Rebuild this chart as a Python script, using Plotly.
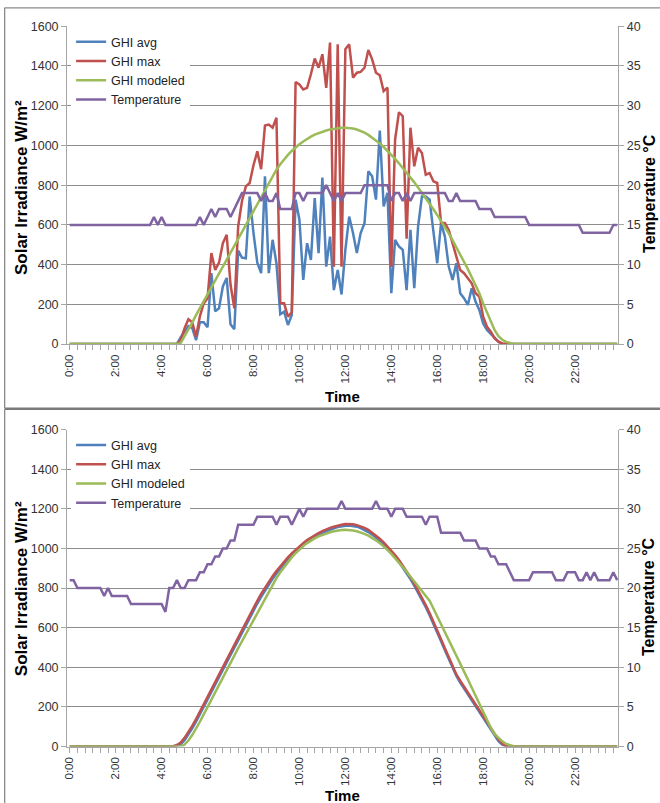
import plotly.graph_objects as go

# ---------------- categories / ticks ----------------
times = [f"{h}:{m:02d}" for h in range(24) for m in range(0, 60, 10)]
tick_vals = times[::2]
tick_text = [t if (t.endswith(":00") and int(t.split(":")[0]) % 2 == 0) else "" for t in tick_vals]

series_names = ["GHI avg", "GHI max", "GHI modeled", "Temperature"]

# ---------------- top chart (cloudy day) ----------------
top_avg = [
    0, 0, 0, 0, 0, 0, 0, 0, 0, 0, 0, 0,
    0, 0, 0, 0, 0, 0, 0, 0, 0, 0, 0, 0,
    0, 0, 0, 0, 0, 35, 65, 90, 80, 20, 110, 110,
    85, 357, 165, 180, 290, 333, 100, 75, 470, 435, 432, 743,
    560, 410, 357, 845, 357, 525, 407, 150, 163, 96, 146, 727,
    626, 323, 508, 424, 735, 458, 838, 390, 541, 272, 373, 250,
    474, 642, 559, 458, 559, 609, 870, 845, 727, 1075, 693, 761,
    256, 525, 491, 474, 272, 575, 281, 592, 743, 743, 727, 559,
    407, 609, 541, 390, 323, 407, 256, 231, 197, 281, 214, 172,
    104, 71, 50, 30, 12, 0, 0, 0, 0, 0, 0, 0,
    0, 0, 0, 0, 0, 0, 0, 0, 0, 0, 0, 0,
    0, 0, 0, 0, 0, 0, 0, 0, 0, 0, 0, 0,
]
top_max = [
    0, 0, 0, 0, 0, 0, 0, 0, 0, 0, 0, 0,
    0, 0, 0, 0, 0, 0, 0, 0, 0, 0, 0, 0,
    0, 0, 0, 0, 0, 20, 80, 125, 110, 37, 140, 205,
    230, 458, 373, 410, 508, 550, 300, 180, 592, 720, 794, 811,
    900, 970, 880, 1100, 1105, 1089, 1139, 205, 205, 138, 160, 1319,
    1307, 1282, 1290, 1358, 1437, 1391, 1459, 1290, 1518, 390, 1509, 390,
    1484, 1509, 1341, 1366, 1370, 1391, 1480, 1433, 1366, 1353, 1273, 1291,
    390, 1030, 1167, 1147, 530, 1089, 895, 988, 962, 853, 861, 819,
    811, 609, 609, 575, 508, 441, 373, 357, 330, 306, 256, 239,
    138, 87, 62, 29, 12, 3, 0, 0, 0, 0, 0, 0,
    0, 0, 0, 0, 0, 0, 0, 0, 0, 0, 0, 0,
    0, 0, 0, 0, 0, 0, 0, 0, 0, 0, 0, 0,
]
top_mod = [
    0, 0, 0, 0, 0, 0, 0, 0, 0, 0, 0, 0,
    0, 0, 0, 0, 0, 0, 0, 0, 0, 0, 0, 0,
    0, 0, 0, 0, 0, 6, 38, 74, 108, 146, 181, 214,
    248, 287, 322, 356, 392, 425, 458, 494, 528, 563, 598, 634,
    670, 705, 740, 780, 815, 848, 878, 905, 930, 952, 972, 990,
    1006, 1020, 1033, 1044, 1054, 1062, 1069, 1075, 1080, 1084, 1087, 1089,
    1089, 1088, 1085, 1080, 1073, 1064, 1053, 1040, 1026, 1010, 992, 973,
    953, 932, 910, 887, 863, 839, 814, 788, 762, 735, 707, 679,
    650, 620, 589, 557, 523, 488, 452, 415, 377, 338, 298, 256,
    205, 158, 112, 70, 40, 22, 11, 4, 1, 0, 0, 0,
    0, 0, 0, 0, 0, 0, 0, 0, 0, 0, 0, 0,
    0, 0, 0, 0, 0, 0, 0, 0, 0, 0, 0, 0,
]
top_temp = [
    15, 15, 15, 15, 15, 15, 15, 15, 15, 15, 15, 15,
    15, 15, 15, 15, 15, 15, 15, 15, 15, 15, 16, 15,
    16, 15, 15, 15, 15, 15, 15, 15, 15, 15, 16, 15,
    16, 17, 16, 17, 17, 17, 16, 17, 18, 19, 19, 19,
    19, 19, 18, 19, 18, 18, 19, 17, 17, 17, 17, 19,
    19, 18, 19, 19, 19, 19, 19, 20, 19, 18, 19, 18,
    19, 19, 19, 19, 19, 20, 20, 20, 20, 20, 20, 20,
    18, 19, 19, 18, 19, 18, 19, 19, 19, 19, 19, 19,
    19, 19, 19, 18, 18, 19, 18, 18, 18, 18, 18, 17,
    17, 17, 17, 16, 16, 16, 16, 16, 16, 16, 16, 16,
    15, 15, 15, 15, 15, 15, 15, 15, 15, 15, 15, 15,
    15, 15, 14, 14, 14, 14, 14, 14, 14, 14, 15, 15,
]

# ---------------- bottom chart (clear day) ----------------
bot_avg = [
    0, 0, 0, 0, 0, 0, 0, 0, 0, 0, 0, 0,
    0, 0, 0, 0, 0, 0, 0, 0, 0, 0, 0, 0,
    0, 0, 0, 0, 4, 12, 32, 60, 92, 126, 162, 199,
    236, 274, 312, 350, 388, 426, 464, 501, 538, 574, 612, 649,
    686, 722, 756, 788, 818, 847, 874, 899, 922, 944, 965, 984,
    1002, 1018, 1033, 1046, 1058, 1069, 1079, 1088, 1096, 1102, 1108, 1112,
    1115, 1116, 1114, 1110, 1103, 1094, 1083, 1070, 1056, 1040, 1022, 1002,
    981, 958, 932, 905, 876, 845, 812, 777, 741, 703, 663, 621,
    577, 532, 486, 440, 396, 356, 323, 293, 263, 233, 203, 173,
    143, 112, 82, 53, 27, 9, 1, 0, 0, 0, 0, 0,
    0, 0, 0, 0, 0, 0, 0, 0, 0, 0, 0, 0,
    0, 0, 0, 0, 0, 0, 0, 0, 0, 0, 0, 0,
]
bot_max = [
    0, 0, 0, 0, 0, 0, 0, 0, 0, 0, 0, 0,
    0, 0, 0, 0, 0, 0, 0, 0, 0, 0, 0, 0,
    0, 0, 0, 2, 8, 20, 44, 72, 104, 138, 174, 211,
    249, 287, 325, 363, 401, 439, 477, 514, 550, 587, 624, 662,
    700, 736, 770, 802, 832, 860, 886, 910, 933, 955, 975, 994,
    1011, 1027, 1042, 1055, 1067, 1078, 1088, 1097, 1104, 1110, 1116, 1120,
    1123, 1124, 1122, 1118, 1112, 1104, 1094, 1080, 1065, 1049, 1031, 1011,
    990, 967, 942, 915, 886, 855, 822, 788, 752, 714, 674, 632,
    588, 542, 496, 450, 405, 364, 332, 302, 273, 243, 213, 183,
    153, 122, 92, 62, 35, 14, 3, 0, 0, 0, 0, 0,
    0, 0, 0, 0, 0, 0, 0, 0, 0, 0, 0, 0,
    0, 0, 0, 0, 0, 0, 0, 0, 0, 0, 0, 0,
]
bot_mod = [
    0, 0, 0, 0, 0, 0, 0, 0, 0, 0, 0, 0,
    0, 0, 0, 0, 0, 0, 0, 0, 0, 0, 0, 0,
    0, 0, 0, 0, 0, 0, 10, 30, 58, 90, 125, 162,
    200, 237, 274, 311, 348, 385, 422, 459, 496, 532, 568, 604,
    640, 676, 711, 745, 780, 815, 850, 880, 907, 932, 955, 976,
    995, 1012, 1027, 1040, 1051, 1061, 1069, 1076, 1082, 1087, 1091, 1093,
    1094, 1093, 1091, 1087, 1081, 1074, 1065, 1054, 1041, 1027, 1011, 993,
    973, 952, 930, 906, 882, 858, 834, 810, 785, 760, 736, 697,
    658, 619, 580, 541, 502, 462, 421, 380, 339, 298, 257, 216,
    175, 134, 94, 62, 42, 26, 13, 5, 1, 0, 0, 0,
    0, 0, 0, 0, 0, 0, 0, 0, 0, 0, 0, 0,
    0, 0, 0, 0, 0, 0, 0, 0, 0, 0, 0, 0,
]
bot_temp = [
    21, 21, 20, 20, 20, 20, 20, 20, 20, 19, 20, 19,
    19, 19, 19, 19, 18, 18, 18, 18, 18, 18, 18, 18,
    18, 17, 20, 20, 21, 20, 20, 21, 21, 21, 22, 22,
    23, 23, 24, 24, 25, 25, 26, 26, 28, 28, 28, 28,
    28, 29, 29, 29, 29, 29, 28, 29, 29, 29, 28, 29,
    30, 29, 30, 30, 30, 30, 30, 30, 30, 30, 30, 31,
    30, 30, 30, 30, 30, 30, 30, 30, 31, 30, 30, 30,
    29, 30, 30, 30, 29, 29, 29, 29, 29, 28, 29, 29,
    29, 27, 27, 27, 27, 27, 27, 26, 26, 26, 26, 25,
    25, 25, 24, 24, 23, 23, 23, 22, 21, 21, 21, 21,
    21, 22, 22, 22, 22, 22, 22, 21, 21, 21, 22, 22,
    22, 21, 21, 22, 21, 22, 21, 21, 21, 21, 22, 21,
]

colors = ["#4F81BD", "#C0504D", "#9BBB59", "#8064A2"]

# ---------------- geometry helpers ----------------
# The captured page is shown at ~0.98 scale with an 8px body margin, so the
# figure is sized to fill that page and reference positions are converted.
S = 0.98
OFF = 8
W, H = 665, 811
def fx(px):
    return (px / S - OFF) / W
def fy(py):
    return 1 - (py / S - OFF) / H

REG = "Liberation Sans, Arial, sans-serif"
TICKC = "#333333"
AXC = "#a6a6a6"
GRIDC = "#8c8c8c"

fig = go.Figure()

def add_set(xa, ya, ya2, leg, vals):
    avg, mx, mod, temp = vals
    for name, v, c in zip(series_names[:3], [avg, mx, mod], colors[:3]):
        fig.add_trace(go.Scatter(x=times, y=v, name=name, mode="lines",
                                 line=dict(color=c, width=2.5),
                                 xaxis=xa, yaxis=ya, legend=leg))
    fig.add_trace(go.Scatter(x=times, y=temp, name=series_names[3], mode="lines",
                             line=dict(color=colors[3], width=2.5),
                             xaxis=xa, yaxis=ya2, legend=leg))

add_set("x", "y", "y2", "legend", (top_avg, top_max, top_mod, top_temp))
add_set("x2", "y3", "y4", "legend2", (bot_avg, bot_max, bot_mod, bot_temp))

xdom = [fx(70), fx(613.5)]
top_dom = [fy(344), fy(27)]
bot_dom = [fy(745.3), fy(429.3)]

def xaxis_cfg(anchor):
    return dict(domain=xdom, anchor=anchor, type="category", range=[-0.7, 143.3],
                tickmode="array", tickvals=tick_vals, ticktext=tick_text,
                tickangle=-90, ticks="outside", ticklen=5, tickcolor=AXC,
                showline=True, linecolor=AXC, linewidth=1, showgrid=False,
                zeroline=False, tickfont=dict(family=REG, size=11.5, color=TICKC))

def yleft_cfg(dom, anchor):
    return dict(domain=dom, anchor=anchor, range=[0, 1600], tick0=0, dtick=200,
                showgrid=True, gridcolor=GRIDC, gridwidth=1, zeroline=False,
                showline=True, linecolor=AXC, linewidth=1, ticks="outside",
                ticklen=5, tickcolor=AXC,
                tickfont=dict(family=REG, size=12.5, color=TICKC))

def yright_cfg(over, anchor):
    return dict(overlaying=over, anchor=anchor, side="right", range=[0, 40],
                tick0=0, dtick=5, showgrid=False, zeroline=False,
                showline=True, linecolor=AXC, linewidth=1, ticks="outside",
                ticklen=5, tickcolor=AXC,
                tickfont=dict(family=REG, size=12.5, color=TICKC))

def legend_cfg(top_px):
    return dict(x=fx(74), y=fy(top_px), xanchor="left", yanchor="top",
                bgcolor="white", borderwidth=0, itemwidth=30,
                font=dict(family=REG, size=12.5, color="#222222"),
                tracegroupgap=0)

TITLEF = dict(family=REG, size=17, color="black")
RTITLEF = dict(family=REG, size=16, color="black")
annotations = [
    dict(text="<b>Solar Irradiance W/m²</b>", x=fx(25), y=fy(188), textangle=-90,
         showarrow=False, xref="paper", yref="paper", xanchor="center", yanchor="middle", font=TITLEF),
    dict(text="<b>Temperature °C</b>", x=fx(644), y=fy(194), textangle=-90,
         showarrow=False, xref="paper", yref="paper", xanchor="center", yanchor="middle", font=RTITLEF),
    dict(text="<b>Time</b>", x=fx(342), y=fy(396), showarrow=False, xref="paper", yref="paper",
         xanchor="center", yanchor="middle", font=dict(family=REG, size=15, color="black")),
    dict(text="<b>Solar Irradiance W/m²</b>", x=fx(25), y=fy(588), textangle=-90,
         showarrow=False, xref="paper", yref="paper", xanchor="center", yanchor="middle", font=TITLEF),
    dict(text="<b>Temperature °C</b>", x=fx(644), y=fy(596), textangle=-90,
         showarrow=False, xref="paper", yref="paper", xanchor="center", yanchor="middle", font=RTITLEF),
    dict(text="<b>Time</b>", x=fx(342), y=fy(794), showarrow=False, xref="paper", yref="paper",
         xanchor="center", yanchor="middle", font=dict(family=REG, size=15, color="black")),
]

FRAME = "#8a8a8a"
shapes = [
    dict(type="line", xref="paper", yref="paper", x0=0.001, x1=1, y0=0.999, y1=0.999,
         line=dict(color=FRAME, width=1.3)),
    dict(type="line", xref="paper", yref="paper", x0=0.001, x1=0.001, y0=0.999, y1=fy(408),
         line=dict(color=FRAME, width=1.3)),
    dict(type="line", xref="paper", yref="paper", x0=0.001, x1=1, y0=fy(408.5), y1=fy(408.5),
         line=dict(color="#7a7a7a", width=2.5)),
    dict(type="line", xref="paper", yref="paper", x0=0.001, x1=0.001, y0=fy(409), y1=0,
         line=dict(color=FRAME, width=1.3)),
]

fig.update_layout(
    width=W, height=H, margin=dict(l=0, r=0, t=0, b=0),
    paper_bgcolor="white", plot_bgcolor="white",
    xaxis=xaxis_cfg("y"), yaxis=yleft_cfg(top_dom, "x"), yaxis2=yright_cfg("y", "x"),
    xaxis2=xaxis_cfg("y3"), yaxis3=yleft_cfg(bot_dom, "x2"), yaxis4=yright_cfg("y3", "x2"),
    legend=legend_cfg(28), legend2=legend_cfg(430),
    annotations=annotations, shapes=shapes, showlegend=True,
)

fig.write_html("out.html")
